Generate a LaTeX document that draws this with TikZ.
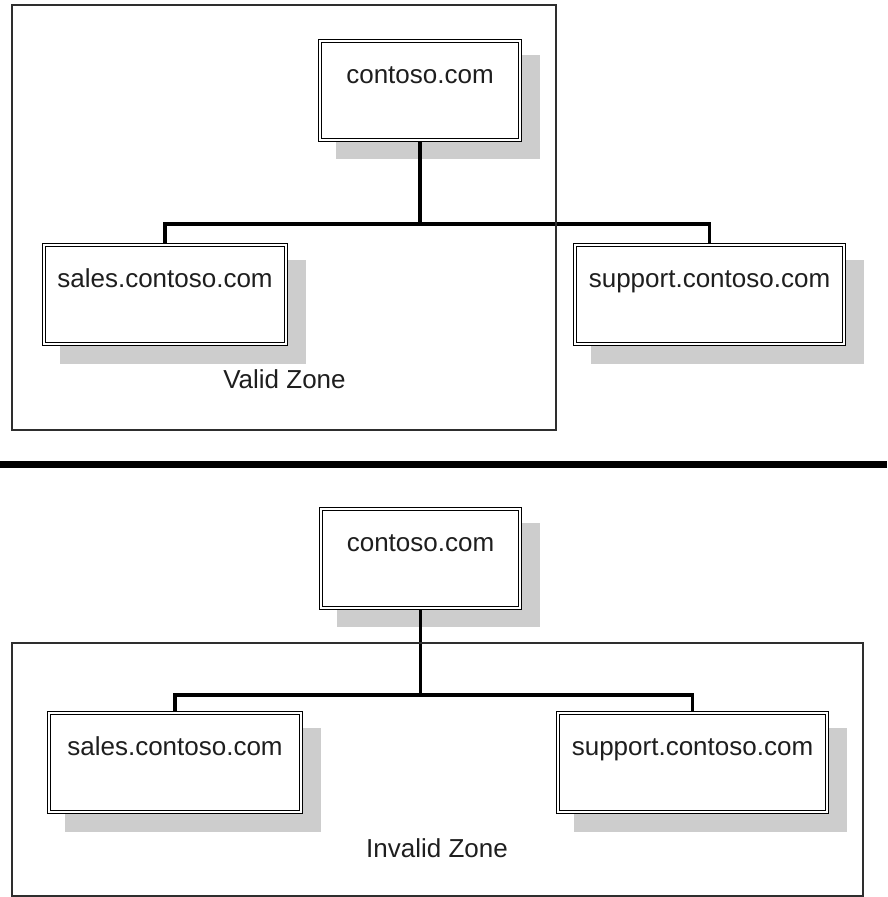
\documentclass[tikz,border=0pt]{standalone}
\usepackage{fontspec}
\setmainfont{Liberation Sans}
\usetikzlibrary{calc,backgrounds}

\definecolor{shadowfill}{HTML}{CDCDCD}
\definecolor{framegray}{HTML}{2E2E2E}
\definecolor{inkgray}{HTML}{1E1E1E}

\newcommand{\domfont}{\fontsize{26}{30}\selectfont}

\tikzset{
  dombox/.style={rectangle, inner sep=0pt, draw=black, line width=1pt,
    double=white, double distance=2pt, fill=white,
    text height=42.5pt, text depth=56.5pt, font=\domfont, text=inkgray},
  zoneframe/.style={draw=framegray, line width=1.7pt},
  zonelabel/.style={anchor=base, inner sep=0pt, font=\domfont, text=inkgray},
  conn/.style={draw=black, line width=3.4pt},
  divider/.style={draw=black, line width=7pt},
}

\begin{document}
\begin{tikzpicture}[x=1pt, y=-1pt]
\useasboundingbox (0,0) rectangle (887,897);

% zone frames
\draw[zoneframe] (12,5) rectangle (556,430);
\draw[zoneframe] (12,643) rectangle (863,896);

% separator between the two cases
\coordinate (divL) at (0,464.5);
\coordinate (divR) at (887,464.5);
\draw[divider] (divL) -- (divR);

% upper tree
\node[dombox, minimum width=200pt] (c1) at (420,90) {contoso.com};
\node[dombox, minimum width=242pt] (s1) at (165,294.5) {sales.contoso.com};
\node[dombox, minimum width=269pt] (p1) at (709.5,294.5) {support.contoso.com};

% lower tree
\node[dombox, minimum width=199pt] (c2) at (420.5,558) {contoso.com};
\node[dombox, minimum width=252pt] (s2) at (175,762.5) {sales.contoso.com};
\node[dombox, minimum width=269pt] (p2) at (692.5,762.5) {support.contoso.com};

% zone captions
\node[zonelabel] (vz) at (284.5,388) {Valid Zone};
\node[zonelabel] (iz) at (437,857) {Invalid Zone};

% drop shadows behind the boxes
\begin{scope}[on background layer]
  \foreach \n in {c1,s1,p1,c2,s2,p2}{
    \fill[shadowfill] ($(\n.north west)+(16,15)$) rectangle ($(\n.south east)+(19,19)$);
  }
\end{scope}

% tree connectors
\coordinate (j1) at (c1.south |- 0,224);
\coordinate (j2) at (c2.south |- 0,695);
\begin{scope}[on background layer]
  \draw[conn] (c1.south) -- (j1);
  \draw[conn] (s1.north) |- (j1) -| (p1.north);
  \draw[conn] (c2.south) -- (j2);
  \draw[conn] (s2.north) |- (j2) -| (p2.north);
\end{scope}
\end{tikzpicture}
\end{document}
